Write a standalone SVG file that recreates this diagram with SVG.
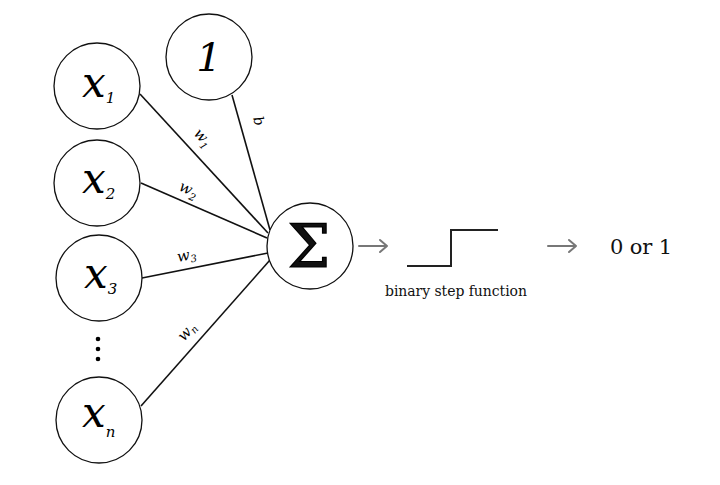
<svg xmlns="http://www.w3.org/2000/svg" width="720" height="485" viewBox="0 0 720 485">
<style>
.node{fill:#fff;stroke:#111;stroke-width:1.3}
.var{font-family:"DejaVu Serif","Liberation Serif","Times New Roman",serif;font-style:italic;fill:#000}
.lbl{font-family:"DejaVu Serif","Liberation Serif","Times New Roman",serif;font-style:italic;fill:#000}
.edge{stroke:#111;stroke-width:1.6;fill:none}
.txt{font-family:"DejaVu Serif","Liberation Serif","Times New Roman",serif;fill:#111}
.arr{stroke:#777;stroke-width:2;fill:none;stroke-linecap:round;stroke-linejoin:round}
</style>
<rect width="720" height="485" fill="#fff"/>
<g id="connectors">
<line class="edge" x1="140" y1="94" x2="268" y2="233"/>
<line class="edge" x1="232" y1="95" x2="270" y2="230"/>
<line class="edge" x1="141" y1="183" x2="267" y2="238"/>
<line class="edge" x1="142" y1="278" x2="268" y2="253"/>
<line class="edge" x1="141" y1="406" x2="270" y2="260"/>
<text class="lbl" transform="translate(193,134) rotate(47)" font-size="15">w<tspan font-size="10" dy="4">1</tspan></text>
<text class="lbl" transform="translate(253,118) rotate(74)" font-size="14">b</text>
<text class="lbl" transform="translate(178,190) rotate(24)" font-size="15">w<tspan font-size="10" dy="4">2</tspan></text>
<text class="lbl" transform="translate(178,262) rotate(-11)" font-size="15">w<tspan font-size="10" dy="3">3</tspan></text>
<text class="lbl" transform="translate(184,342) rotate(-48.5)" font-size="15">w<tspan font-size="10" dy="3">n</tspan></text>
</g>
<g id="bias">
<circle class="node" cx="209" cy="57" r="43"/>
<text class="var" x="209" y="71" font-size="40" text-anchor="middle">1</text>
</g>
<g id="x1">
<circle class="node" cx="97" cy="86" r="43"/>
<text class="var" x="82" y="97" font-size="42">x<tspan font-size="15" dy="6">1</tspan></text>
</g>
<g id="x2">
<circle class="node" cx="97" cy="183" r="43"/>
<text class="var" x="82" y="193" font-size="42">x<tspan font-size="15" dy="6">2</tspan></text>
</g>
<g id="x3">
<circle class="node" cx="99" cy="278" r="43"/>
<text class="var" x="84" y="288" font-size="42">x<tspan font-size="15" dy="6">3</tspan></text>
</g>
<g id="dots">
<circle cx="98" cy="339" r="2.3" fill="#000"/>
<circle cx="98" cy="349" r="2.3" fill="#000"/>
<circle cx="98" cy="359" r="2.3" fill="#000"/>
</g>
<g id="xn">
<circle class="node" cx="99" cy="420" r="43"/>
<text class="var" x="82" y="427" font-size="42">x<tspan font-size="15" dy="10">n</tspan></text>
</g>
<g id="sum">
<circle class="node" cx="310" cy="246" r="43"/>
<text class="txt" x="309" y="267" font-size="60" stroke="#000" stroke-width="1.2" text-anchor="middle">Σ</text>
</g>
<g id="arrow1">
<path class="arr" d="M359,246 H387 M380,240 L387,246 L380,252"/>
</g>
<g id="step">
<polyline points="407,266 451,266 451,230 498,230" fill="none" stroke="#222" stroke-width="2"/>
<text class="txt" x="385" y="296" font-size="14" textLength="142">binary step function</text>
</g>
<g id="arrow2">
<path class="arr" d="M548,246 H576 M569,240 L576,246 L569,252"/>
</g>
<g id="output">
<text class="txt" x="610" y="254" font-size="21" textLength="62">0 or 1</text>
</g>
</svg>
